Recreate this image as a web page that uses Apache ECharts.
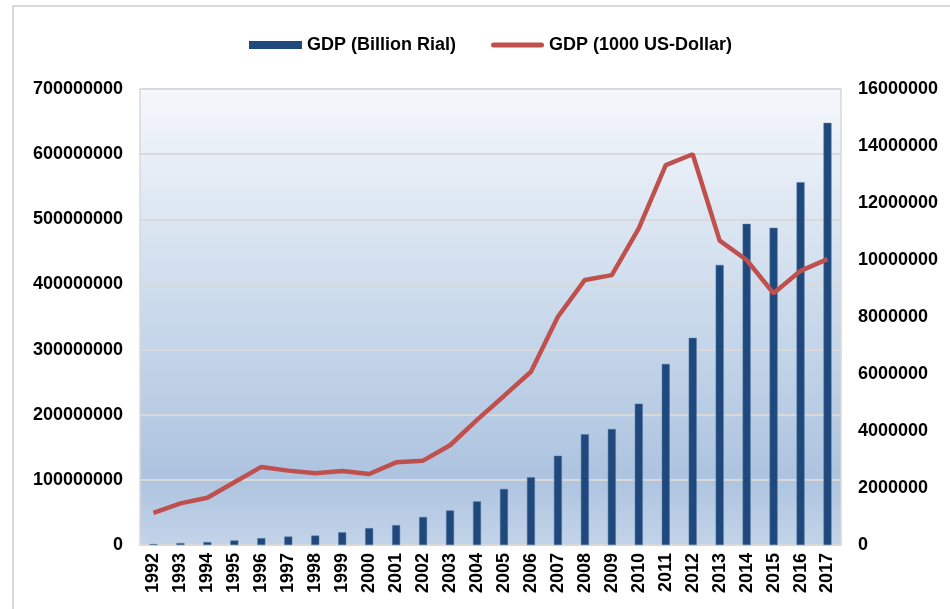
<!DOCTYPE html>
<html>
<head>
<meta charset="utf-8">
<title>GDP</title>
<script src="https://cdn.jsdelivr.net/npm/echarts@6/dist/echarts.min.js"></script>
<style>
  html, body { margin: 0; padding: 0; background: #fff; }
  #main { width: 950px; height: 609px; }
</style>
</head>
<body>
<div id="main"></div>
<script>
// 数据
var years = ['1992','1993','1994','1995','1996','1997','1998','1999','2000','2001','2002','2003','2004',
             '2005','2006','2007','2008','2009','2010','2011','2012','2013','2014','2015','2016','2017'];
var gdpRial = [1500000, 3000000, 4500000, 7000000, 10500000, 13000000, 14500000, 19500000, 26000000, 30500000,
               43000000, 53000000, 67000000, 86000000, 104000000, 137000000, 170000000, 178000000, 217000000,
               278000000, 318000000, 430000000, 493000000, 487000000, 557000000, 648000000];
var gdpUsd = [1130000, 1460000, 1660000, 2200000, 2740000, 2610000, 2520000, 2600000, 2490000, 2900000,
              2960000, 3500000, 4390000, 5230000, 6080000, 8010000, 9300000, 9470000, 11110000, 13330000,
              13710000, 10680000, 10000000, 8830000, 9620000, 10030000];
var leftAxis = { min: 0, max: 700000000, interval: 100000000 };
var rightAxis = { min: 0, max: 16000000, interval: 2000000 };

var myChart = echarts.init(document.getElementById('main'));
var txt = { color: '#000', fontFamily: 'Liberation Sans, Arial, sans-serif', fontWeight: 'bold', fontSize: 18 };

var option = {
    animation: false,
    graphic: [{
        type: 'rect',
        shape: { x: 13, y: 6, width: 1000, height: 700 },
        style: { fill: 'none', stroke: '#d9d9d9', lineWidth: 2 },
        silent: true
    }],
    legend: {
        top: 31,
        left: 244,
        itemGap: 35,
        itemWidth: 53,
        itemHeight: 8,
        textStyle: txt,
        itemStyle: { borderWidth: 0 },
        data: [
            { name: 'GDP (Billion Rial)', icon: 'rect' },
            { name: 'GDP (1000 US-Dollar)',
              icon: 'path://M2.5,0 L50.5,0 A2.5,2.5 0 0 1 50.5,5 L2.5,5 A2.5,2.5 0 0 1 2.5,0 Z',
              itemStyle: { color: '#c0504d', borderWidth: 0 } }
        ]
    },
    grid: {
        left: 140, top: 89, right: 109, bottom: 64,
        show: true,
        borderColor: '#d9d9d9',
        borderWidth: 1.5,
        backgroundColor: new echarts.graphic.LinearGradient(0, 0, 0, 1, [
            { offset: 0, color: '#f5f8fc' },
            { offset: 0.5, color: '#c9d9eb' },
            { offset: 0.85, color: '#adc3df' },
            { offset: 1, color: '#c3d4e9' }
        ])
    },
    xAxis: {
        type: 'category',
        data: years,
        axisLine: { lineStyle: { color: '#d9d9d9', width: 1.5 } },
        axisTick: { alignWithLabel: false, length: 6, lineStyle: { color: '#d9d9d9', width: 1.5 } },
        axisLabel: Object.assign({ rotate: 90, margin: 8, interval: 0 }, txt)
    },
    yAxis: [{
        type: 'value',
        min: leftAxis.min, max: leftAxis.max, interval: leftAxis.interval,
        axisLine: { show: false },
        axisTick: { show: false },
        splitLine: { lineStyle: { color: '#d9d9d9', width: 2 } },
        axisLabel: Object.assign({ margin: 17, formatter: function (v) { return String(v); } }, txt)
    }, {
        type: 'value',
        min: rightAxis.min, max: rightAxis.max, interval: rightAxis.interval,
        axisLine: { show: false },
        axisTick: { show: false },
        splitLine: { show: false },
        axisLabel: Object.assign({ margin: 17, formatter: function (v) { return String(v); } }, txt)
    }],
    series: [{
        name: 'GDP (Billion Rial)',
        type: 'bar',
        barWidth: 8,
        itemStyle: { color: '#1f497d', borderColor: '#5577a3', borderWidth: 0.5 },
        data: gdpRial
    }, {
        name: 'GDP (1000 US-Dollar)',
        type: 'line',
        yAxisIndex: 1,
        symbol: 'none',
        lineStyle: { color: '#c0504d', width: 4.5 },
        itemStyle: { color: '#c0504d' },
        data: gdpUsd
    }]
};

myChart.setOption(option);
</script>
</body>
</html>
